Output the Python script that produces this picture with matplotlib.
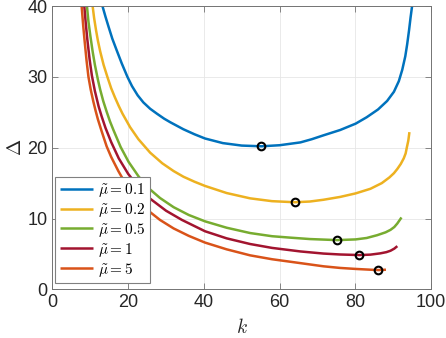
import matplotlib
matplotlib.use("Agg")
import matplotlib.pyplot as plt

plt.rcParams['font.family'] = ['Liberation Sans', 'DejaVu Sans']
plt.rcParams['mathtext.fontset'] = 'cm'

labels = [r'$\tilde{\mu} = 0.1$', r'$\tilde{\mu} = 0.2$', r'$\tilde{\mu} = 0.5$',
          r'$\tilde{\mu} = 1$', r'$\tilde{\mu} = 5$']
colors = ['#0072BD', '#EDB120', '#77AC30', '#A2142F', '#D95319']

k_01 = [13.2, 14.0, 14.8, 15.8, 17.0, 18.3, 19.8, 21.0, 22.5, 24.0, 25.8, 27.6, 29.5, 31.1,
        34.6, 37.5, 40.3, 45, 50, 55.2, 60, 65.5, 68.5, 71.6, 76, 80.1, 83, 86, 88.4, 90.2,
        91.5, 92.4, 93.2, 93.7, 94.2, 94.6, 95.0]
d_01 = [40, 38.5, 37.1, 35.4, 33.7, 31.9, 30.0, 28.7, 27.4, 26.4, 25.5, 24.8, 24.1, 23.6,
        22.6, 21.9, 21.3, 20.65, 20.3, 20.2, 20.35, 20.75, 21.2, 21.75, 22.5, 23.4, 24.3, 25.4,
        26.6, 27.9, 29.4, 31.0, 32.9, 34.6, 36.6, 38.4, 40]

k_02 = [10.6, 11.0, 11.5, 12.0, 12.6, 13.5, 14.5, 15.5, 16.5, 17.5, 18.5, 20.5, 22.7, 25.8,
        29, 32, 34.6, 37.5, 40.3, 46, 52.2, 58, 64, 68, 71.6, 76, 80.1, 84, 87, 89, 90.2,
        91.1, 92.0, 92.8, 93.3, 93.6, 94.0, 94.3]
d_02 = [40, 38.3, 36.6, 35.1, 33.6, 31.7, 30, 28.4, 27.1, 25.9, 24.8, 22.9, 21.2, 19.3,
        17.8, 16.7, 15.9, 15.2, 14.6, 13.6, 12.85, 12.45, 12.3, 12.4, 12.65, 13.05, 13.55, 14.2,
        15.0, 15.8, 16.4, 17.0, 17.7, 18.5, 19.2, 20.0, 21.0, 22.2]

k_05 = [9.1, 9.5, 10.0, 10.6, 11.2, 12.0, 12.6, 13.4, 14.3, 15.2, 16.1, 18.0, 20.1, 22.8,
        25.8, 28.4, 32, 36, 40.3, 46, 52.2, 58, 62.8, 68, 75.2, 80.1, 83, 85.8, 88, 89.3,
        90.3, 91.1, 92.2]
d_05 = [40, 37.8, 35.8, 33.6, 31.7, 29.6, 28.2, 26.6, 25.1, 23.7, 22.5, 20.1, 18.0, 15.9,
        14.1, 12.9, 11.6, 10.5, 9.6, 8.7, 7.95, 7.5, 7.3, 7.1, 6.95, 7.05, 7.25, 7.65, 8.05,
        8.4, 8.8, 9.3, 10.15]

k_1 = [8.4, 8.8, 9.2, 9.8, 10.4, 11.2, 12.2, 13.0, 14.0, 15.5, 17.5, 20, 22.5, 25.8, 30,
       34.2, 40.3, 46, 52.2, 58, 65.5, 71.6, 76, 81.1, 84, 86.6, 88.2, 89.3, 90.3, 91.1]
d_1 = [40, 37.5, 35.3, 32.5, 30.2, 28, 25.8, 24.4, 22.8, 20.8, 18.5, 16.3, 14.6, 12.8, 11.1,
       9.8, 8.2, 7.2, 6.4, 5.85, 5.35, 5.05, 4.92, 4.84, 4.9, 5.08, 5.25, 5.45, 5.75, 6.1]

k_5 = [7.7, 8.1, 8.5, 9.0, 9.5, 10.1, 10.8, 11.4, 12.0, 13.0, 14.3, 15.5, 17.4, 19, 20.5,
       22.5, 24, 25.8, 28.4, 32, 36, 40.3, 46, 52.2, 58, 65.5, 71.6, 76, 80.1, 84, 86.1, 88.1]
d_5 = [40, 37.3, 35, 32.3, 30, 28.2, 26.5, 25.2, 24.0, 22.3, 20.2, 18.7, 16.7, 15.2, 14.1,
       12.7, 11.8, 10.9, 9.8, 8.6, 7.55, 6.6, 5.65, 4.8, 4.25, 3.7, 3.25, 3.02, 2.88, 2.77,
       2.72, 2.77]

k_series = [k_01, k_02, k_05, k_1, k_5]
d_series = [d_01, d_02, d_05, d_1, d_5]

k_min = [55.2, 64.0, 75.2, 81.1, 86.1]
d_min = [20.2, 12.35, 6.95, 4.84, 2.72]

x_ticks = [0, 20, 40, 60, 80, 100]
y_ticks = [0, 10, 20, 30, 40]

fig = plt.figure(figsize=(4.46, 3.38), dpi=100)
ax = fig.add_axes([0.1177, 0.144, 0.8487, 0.838])

for ks, ds, c, lab in zip(k_series, d_series, colors, labels):
    ax.plot(ks, ds, color=c, lw=1.8, label=lab, solid_capstyle='butt',
            solid_joinstyle='round')
ax.plot(k_min, d_min, linestyle='none', marker='o', ms=5.5, mfc='none',
        mec='black', mew=1.5, zorder=5)

ax.set_xlim(0, 100)
ax.set_ylim(0, 40)
ax.set_xticks(x_ticks)
ax.set_yticks(y_ticks)
ax.grid(True, color='0.9', lw=0.6)
ax.set_axisbelow(True)
ax.tick_params(direction='in', length=4, width=0.6, colors='0.45',
               labelcolor='#262626', labelsize=13, top=True, right=True)
for s in ax.spines.values():
    s.set_color('0.45')
    s.set_linewidth(0.7)

ax.set_xlabel(r'$k$', fontsize=14, color='#262626', labelpad=5)
ax.set_ylabel(r'$\Delta$', fontsize=14, color='#262626', labelpad=2)

leg = ax.legend(loc='lower left', bbox_to_anchor=(0.0066, 0.022), borderaxespad=0,
                fontsize=11, frameon=True, fancybox=False, handlelength=2.2,
                handletextpad=0.3, labelspacing=0.12, borderpad=0.3)
leg.get_frame().set_edgecolor('0.5')
leg.get_frame().set_linewidth(0.8)
leg.get_frame().set_alpha(1)

fig.savefig('out.png', dpi=100)
